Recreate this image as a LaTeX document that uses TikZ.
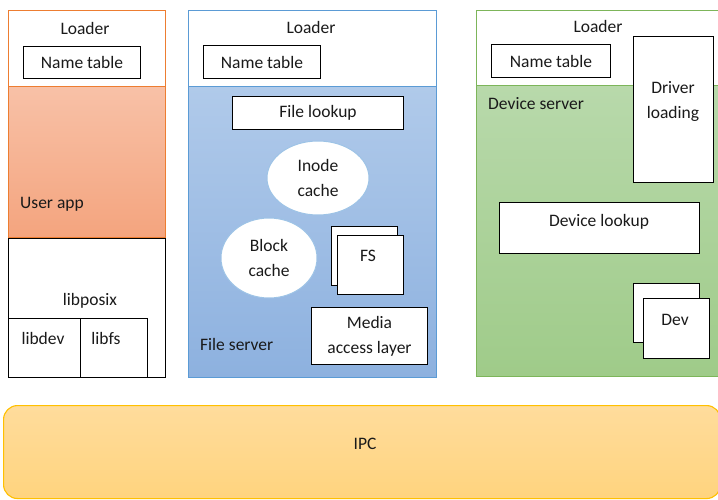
\documentclass[tikz,border=0pt]{standalone}
\usepackage{fontspec}
\setmainfont{Carlito}
\usetikzlibrary{shapes.geometric}
\definecolor{appEdge}{HTML}{ED7D31}
\definecolor{appTop}{HTML}{F8C1A7}
\definecolor{appBot}{HTML}{F4A47E}
\definecolor{fsEdge}{HTML}{5B9BD5}
\definecolor{fsTop}{HTML}{B0CAEA}
\definecolor{fsBot}{HTML}{8DB1DF}
\definecolor{dvEdge}{HTML}{7DB55A}
\definecolor{dvTop}{HTML}{B8D9AB}
\definecolor{dvBot}{HTML}{9FCB89}
\definecolor{ipcEdge}{HTML}{FFC000}
\definecolor{ipcTop}{HTML}{FFDC9C}
\definecolor{ipcBot}{HTML}{FFD47E}
\definecolor{cacheEdge}{HTML}{9DC3E6}
\definecolor{ink}{HTML}{1A1A1A}
\tikzset{
  lbl/.style={font=\fontsize{17.5}{25}\selectfont, text=ink, align=center, inner sep=0pt},
  area/.style={anchor=north west, inner sep=0pt, line width=1.1pt},
  box/.style={area, draw=black, line width=1pt, fill=white, lbl},
  cache/.style={ellipse, draw=cacheEdge, line width=1pt, fill=white, inner sep=0pt, lbl},
}
\begin{document}
\begin{tikzpicture}[x=1pt, y=-1pt]
\clip (0,0) rectangle (718,500);
\fill[white] (0,0) rectangle (718,500);

% ---- user application column ----
\node[area, draw=appEdge, fill=white, minimum width=157pt, minimum height=76pt] (lload) at (8,10) {};
\node[lbl] (lloadT) at (85,28) {Loader};
\node[box, minimum width=117pt, minimum height=32pt] (lname) at (23,46) {Name table};
\node[area, draw=appEdge, top color=appTop, bottom color=appBot, minimum width=157pt, minimum height=151pt] (uapp) at (8,86) {};
\node[lbl, anchor=west] (uappT) at (20,204) {User app};
\node[box, minimum width=157pt, minimum height=139pt] (posix) at (8,238) {};
\node[lbl] (posixT) at (90,301) {libposix};
\node[box, minimum width=72pt, minimum height=59pt] (ldev) at (8,318) {};
\node[lbl] (ldevT) at (43,338) {libdev};
\node[box, minimum width=67pt, minimum height=59pt] (lfs) at (80,318) {};
\node[lbl] (lfsT) at (106,338) {libfs};

% ---- file server column ----
\node[area, draw=fsEdge, fill=white, minimum width=248pt, minimum height=76pt] (mload) at (188,10) {};
\node[lbl] (mloadT) at (311,27) {Loader};
\node[box, minimum width=117pt, minimum height=33pt] (mname) at (203,45) {Name table};
\node[area, draw=fsEdge, top color=fsTop, bottom color=fsBot, minimum width=248pt, minimum height=291pt] (fsrv) at (188,86) {};
\node[box, minimum width=171pt, minimum height=33pt] (flook) at (232,96) {File lookup};
\node[cache, minimum width=102pt, minimum height=74pt] (inode) at (318,178) {Inode\\cache};
\node[cache, minimum width=96pt, minimum height=80pt] (block) at (269,258) {Block\\cache};
\node[box, minimum width=66pt, minimum height=59pt] (fsB) at (331,226) {};
\node[box, minimum width=66pt, minimum height=59pt] (fsF) at (337,235) {};
\node[lbl] (fsT) at (368,256) {FS};
\node[box, minimum width=116pt, minimum height=57pt] (media) at (311,307) {Media\\access layer};
\node[lbl, anchor=west] (fsrvT) at (200,344) {File server};

% ---- device server column ----
\node[area, draw=dvEdge, fill=white, minimum width=250pt, minimum height=75pt] (rload) at (476,10) {};
\node[lbl] (rloadT) at (598,26) {Loader};
\node[box, minimum width=119pt, minimum height=33pt] (rname) at (491,44) {Name table};
\node[area, draw=dvEdge, top color=dvTop, bottom color=dvBot, minimum width=250pt, minimum height=291pt] (dsrv) at (476,85) {};
\node[lbl, anchor=west] (dsrvT) at (488,104) {Device server};
\node[box, minimum width=80pt, minimum height=146pt] (drv) at (633,36) {};
\node[lbl] (drvT) at (673,101) {Driver\\loading};
\node[box, minimum width=200pt, minimum height=51pt] (dlook) at (499,202) {};
\node[lbl] (dlookT) at (599,222) {Device lookup};
\node[box, minimum width=66pt, minimum height=59pt] (devB) at (633,283) {};
\node[box, minimum width=66pt, minimum height=60pt] (devF) at (643,298) {};
\node[lbl] (devT) at (675,320) {Dev};

% ---- IPC bar ----
\node[area, draw=ipcEdge, top color=ipcTop, bottom color=ipcBot, rounded corners=14pt, minimum width=717pt, minimum height=93pt] (ipc) at (3,405) {};
\node[lbl] (ipcT) at (365,444) {IPC};
\end{tikzpicture}
\end{document}
